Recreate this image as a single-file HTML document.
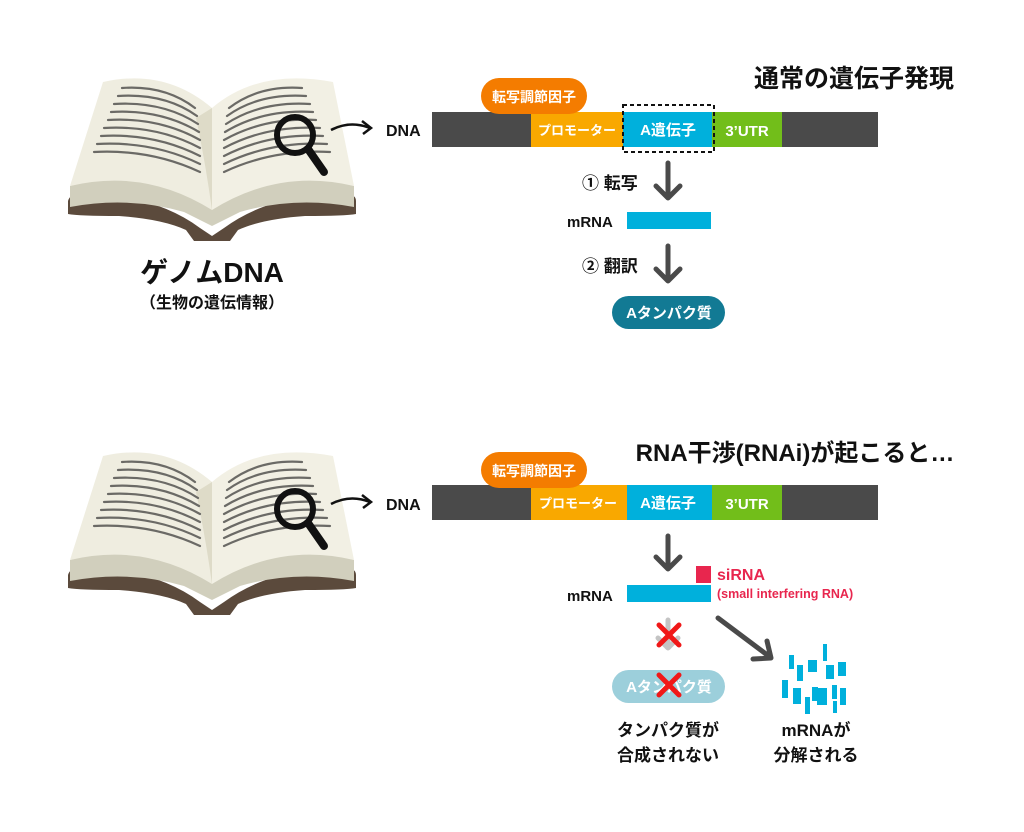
<!DOCTYPE html>
<html><head><meta charset="utf-8"><style>
html,body{margin:0;padding:0;background:#fff;}
svg{display:block;}
text{font-family:"Liberation Sans","Noto Sans CJK JP",sans-serif;font-weight:bold;}
</style></head><body>
<svg width="1024" height="832" viewBox="0 0 1024 832" xmlns="http://www.w3.org/2000/svg">

<!-- BOOK TOP -->
<g>
<path d="M68,201 Q70,193 82,195 L112,195 Q165,202 200,228 L212,236 L224,228 Q259,202 312,195 L343,195 Q356,193 356,201 L356,214 Q345,216 305,216 Q262,219 238,230 L230,241 L194,241 L186,230 Q162,219 119,216 Q79,216 68,214 Z" fill="#5b4a3c"/>
<path d="M70,186 Q135,166 212,208 Q289,166 354,186 L354,207 Q295,196 240,212 L212,226 L184,212 Q129,196 70,207 Z" fill="#d1cfbd"/>
<path d="M103,82 Q165,68 212,108 L212,210 Q145,168 70,186 Z" fill="#efede0"/>
<path d="M212,108 Q259,68 333,82 L354,186 Q279,168 212,210 Z" fill="#f2f0e4"/>
<path d="M196,118 Q205,160 212,210 L212,108 Z" fill="#dedbc8"/>
<g fill="none" stroke="#6b6a66" stroke-width="2.2" stroke-linecap="round">
<path d="M122,88 Q165,85 195,108"/><path d="M118,96 Q165,93 197,116"/><path d="M114,104 Q163,101 198,124"/><path d="M111,112 Q161,109 199,132"/><path d="M108,120 Q159,117 200,140"/><path d="M104,128 Q157,125 200,148"/><path d="M101,136 Q155,133 200,156"/><path d="M97,144 Q153,141 200,164"/><path d="M94,152 Q151,149 200,172"/>
<path d="M229,108 Q259,85 302,88"/><path d="M227,116 Q259,93 306,96"/><path d="M226,124 Q261,101 310,104"/><path d="M225,132 Q263,109 313,112"/><path d="M224,140 Q265,117 316,120"/><path d="M224,148 Q267,125 320,128"/><path d="M224,156 Q269,133 323,136"/><path d="M224,164 Q271,141 327,144"/><path d="M224,172 Q273,149 330,152"/>
</g>
<circle cx="295" cy="135" r="18" fill="none" stroke="#111" stroke-width="6"/>
<line x1="308" y1="149" x2="324" y2="172" stroke="#111" stroke-width="8" stroke-linecap="round"/>
<path d="M331,130 Q350,120 370,128" fill="none" stroke="#111" stroke-width="2.5"/>
<path d="M362,121 L371,128 L363,134" fill="none" stroke="#111" stroke-width="2.5"/>
</g>
<text x="212" y="282" font-size="28" text-anchor="middle" fill="#111">ゲノムDNA</text>
<text x="212" y="308" font-size="16" text-anchor="middle" fill="#111">（生物の遺伝情報）</text>

<!-- BOOK BOTTOM -->
<g transform="translate(0,374)">
<path d="M68,201 Q70,193 82,195 L112,195 Q165,202 200,228 L212,236 L224,228 Q259,202 312,195 L343,195 Q356,193 356,201 L356,214 Q345,216 305,216 Q262,219 238,230 L230,241 L194,241 L186,230 Q162,219 119,216 Q79,216 68,214 Z" fill="#5b4a3c"/>
<path d="M70,186 Q135,166 212,208 Q289,166 354,186 L354,207 Q295,196 240,212 L212,226 L184,212 Q129,196 70,207 Z" fill="#d1cfbd"/>
<path d="M103,82 Q165,68 212,108 L212,210 Q145,168 70,186 Z" fill="#efede0"/>
<path d="M212,108 Q259,68 333,82 L354,186 Q279,168 212,210 Z" fill="#f2f0e4"/>
<path d="M196,118 Q205,160 212,210 L212,108 Z" fill="#dedbc8"/>
<g fill="none" stroke="#6b6a66" stroke-width="2.2" stroke-linecap="round">
<path d="M122,88 Q165,85 195,108"/><path d="M118,96 Q165,93 197,116"/><path d="M114,104 Q163,101 198,124"/><path d="M111,112 Q161,109 199,132"/><path d="M108,120 Q159,117 200,140"/><path d="M104,128 Q157,125 200,148"/><path d="M101,136 Q155,133 200,156"/><path d="M97,144 Q153,141 200,164"/><path d="M94,152 Q151,149 200,172"/>
<path d="M229,108 Q259,85 302,88"/><path d="M227,116 Q259,93 306,96"/><path d="M226,124 Q261,101 310,104"/><path d="M225,132 Q263,109 313,112"/><path d="M224,140 Q265,117 316,120"/><path d="M224,148 Q267,125 320,128"/><path d="M224,156 Q269,133 323,136"/><path d="M224,164 Q271,141 327,144"/><path d="M224,172 Q273,149 330,152"/>
</g>
<circle cx="295" cy="135" r="18" fill="none" stroke="#111" stroke-width="6"/>
<line x1="308" y1="149" x2="324" y2="172" stroke="#111" stroke-width="8" stroke-linecap="round"/>
<path d="M331,130 Q350,120 370,128" fill="none" stroke="#111" stroke-width="2.5"/>
<path d="M362,121 L371,128 L363,134" fill="none" stroke="#111" stroke-width="2.5"/>
</g>

<!-- TOP DIAGRAM -->
<text x="954" y="87" font-size="25" text-anchor="end" fill="#111">通常の遺伝子発現</text>
<text x="386" y="136" font-size="16" fill="#111">DNA</text>
<rect x="432" y="112" width="446" height="35" fill="#4a4a4a"/>
<rect x="531" y="112" width="92" height="35" fill="#f9a800"/>
<rect x="623" y="112" width="89" height="35" fill="#00b0dc"/>
<rect x="712" y="112" width="70" height="35" fill="#72be1a"/>
<rect x="481" y="78" width="106" height="36" rx="18" fill="#f47c00"/>
<text x="534" y="102" font-size="14" text-anchor="middle" fill="#fff">転写調節因子</text>
<text x="577" y="135" font-size="13" text-anchor="middle" fill="#fff">プロモーター</text>
<text x="668" y="135" font-size="15" text-anchor="middle" fill="#fff">A遺伝子</text>
<text x="747" y="136" font-size="15" text-anchor="middle" fill="#fff">3’UTR</text>
<rect x="623" y="105" width="91" height="47" fill="none" stroke="#111" stroke-width="2" stroke-dasharray="4,3"/>
<g stroke="#4a4a4a" stroke-width="5" fill="none" stroke-linecap="round" stroke-linejoin="round">
<path d="M668,163 V197 M656,186 L668,198 L680,186"/>
<path d="M668,246 V280 M656,269 L668,281 L680,269"/>
</g>
<text x="582" y="189" font-size="17" fill="#111">① 転写</text>
<text x="567" y="227" font-size="15" fill="#111">mRNA</text>
<rect x="627" y="212" width="84" height="17" fill="#00b0dc"/>
<text x="582" y="272" font-size="17" fill="#111">② 翻訳</text>
<rect x="612" y="296" width="113" height="33" rx="16.5" fill="#127a94"/>
<text x="669" y="318" font-size="15" text-anchor="middle" fill="#fff">Aタンパク質</text>

<!-- BOTTOM DIAGRAM -->
<text x="795" y="461" font-size="24" text-anchor="middle" fill="#111">RNA干渉(RNAi)が起こると…</text>
<text x="386" y="510" font-size="16" fill="#111">DNA</text>
<rect x="432" y="485" width="446" height="35" fill="#4a4a4a"/>
<rect x="531" y="485" width="96" height="35" fill="#f9a800"/>
<rect x="627" y="485" width="85" height="35" fill="#00b0dc"/>
<rect x="712" y="485" width="70" height="35" fill="#72be1a"/>
<rect x="481" y="452" width="106" height="36" rx="18" fill="#f47c00"/>
<text x="534" y="476" font-size="14" text-anchor="middle" fill="#fff">転写調節因子</text>
<text x="578" y="508" font-size="13" text-anchor="middle" fill="#fff">プロモーター</text>
<text x="668" y="508" font-size="15" text-anchor="middle" fill="#fff">A遺伝子</text>
<text x="747" y="509" font-size="15" text-anchor="middle" fill="#fff">3’UTR</text>
<g stroke="#4a4a4a" stroke-width="5" fill="none" stroke-linecap="round" stroke-linejoin="round">
<path d="M668,536 V568 M656,557 L668,569 L680,557"/>
<path d="M718,618 L770,657 M753,659 L771,658 L767,641"/>
</g>
<rect x="696" y="566" width="15" height="17" fill="#e8264e"/>
<text x="717" y="580" font-size="16" fill="#e8264e">siRNA</text>
<text x="717" y="598" font-size="12.5" fill="#e8264e">(small interfering RNA)</text>
<text x="567" y="601" font-size="15" fill="#111">mRNA</text>
<rect x="627" y="585" width="84" height="17" fill="#00b0dc"/>
<g stroke="#c4c4c4" stroke-width="5" fill="none" stroke-linecap="round" stroke-linejoin="round">
<path d="M668,620 V648 M658,638 L668,648 L678,638"/>
</g>
<rect x="612" y="670" width="113" height="33" rx="16.5" fill="#9ccfdb"/>
<text x="669" y="692" font-size="15" text-anchor="middle" fill="#fff">Aタンパク質</text>
<g stroke="#f01818" stroke-width="5" stroke-linecap="round">
<path d="M659,625 L679,645 M679,625 L659,645"/>
<path d="M659,675 L679,695 M679,675 L659,695"/>
</g>
<g fill="#00b0dc">
<rect x="789" y="655" width="5" height="14"/><rect x="797" y="665" width="6" height="16"/><rect x="808" y="660" width="9" height="12"/><rect x="823" y="644" width="4" height="17"/><rect x="826" y="665" width="8" height="14"/><rect x="838" y="662" width="8" height="14"/>
<rect x="782" y="680" width="6" height="18"/><rect x="793" y="688" width="8" height="16"/><rect x="812" y="687" width="6" height="14"/><rect x="817" y="688" width="10" height="17"/><rect x="832" y="685" width="5" height="14"/><rect x="840" y="688" width="6" height="17"/>
<rect x="805" y="697" width="5" height="17"/><rect x="833" y="701" width="4" height="12"/>
</g>
<text x="668" y="736" font-size="17" text-anchor="middle" fill="#111">タンパク質が</text>
<text x="668" y="761" font-size="17" text-anchor="middle" fill="#111">合成されない</text>
<text x="816" y="736" font-size="17" text-anchor="middle" fill="#111">mRNAが</text>
<text x="816" y="761" font-size="17" text-anchor="middle" fill="#111">分解される</text>
</svg>
</body></html>
